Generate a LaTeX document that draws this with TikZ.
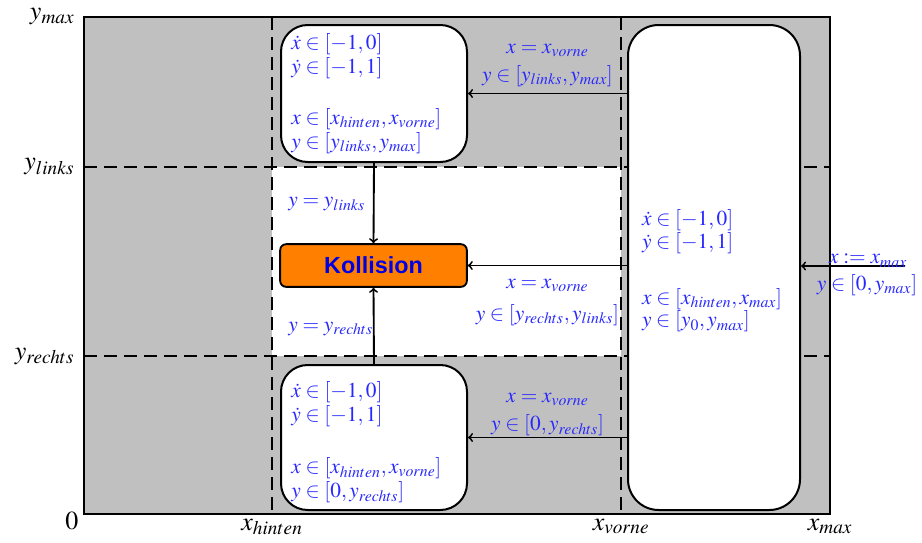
\documentclass[tikz,border=0pt]{standalone}
\usepackage{mathptmx}
\usepackage{fontspec}
\newfontfamily\kollfont{Liberation Sans}
\usetikzlibrary{calc}
\definecolor{lblblue}{RGB}{40,40,255}
\definecolor{kollblue}{RGB}{0,0,225}
\definecolor{kollorange}{RGB}{255,128,0}
\definecolor{areagray}{RGB}{192,192,192}
\tikzset{
  gridline/.style={dashed, dash pattern=on 10pt off 5pt, line width=1.2pt},
  statebox/.style={draw, line width=1.5pt, fill=white, align=left, inner xsep=0pt,
    font=\fontsize{16}{18}\selectfont, text=lblblue},
  kollbox/.style={draw, line width=1.4pt, fill=kollorange, rounded corners=4.5pt,
    minimum width=140pt, minimum height=32pt, text=kollblue,
    font=\kollfont\bfseries\fontsize{17.5}{20}\selectfont},
  lbl/.style={text=lblblue, align=center, font=\fontsize{16}{20}\selectfont},
  axis/.style={font=\fontsize{19.5}{22}\selectfont},
  conn/.style={->, line width=1.4pt},
}
\begin{document}
\begin{tikzpicture}[x=0.75pt, y=-0.75pt]
\useasboundingbox (0,0) rectangle (922,543);
% area
\fill[areagray] (84,17) rectangle (830,514);
\fill[white] (272,167) rectangle (621,356);
\draw[gridline] (272,17) -- (272,514);
\draw[gridline] (621,17) -- (621,514);
\draw[gridline] (84,167) -- (830,167);
\draw[gridline] (84,356) -- (830,356);
\draw[line width=1.5pt] (84,17) rectangle (830,514);
% axis labels
\node[axis, anchor=east] (ymax) at (79,17) {$y_{max}$};
\node[axis, anchor=east] (ylinks) at (79,167) {$y_{links}$};
\node[axis, anchor=east] (yrechts) at (79,356) {$y_{rechts}$};
\node[axis, anchor=east] (zero) at (83,521) {$0$};
\node[axis, anchor=north] (xhinten) at (272,514) {$x_{hinten}$};
\node[axis, anchor=north] (xvorne) at (621,514) {$x_{vorne}$};
\node[axis, anchor=north] (xmax) at (830,514) {$x_{max}$};
% states
\node[statebox, rounded corners=20pt, minimum width=139.5pt, minimum height=102.75pt, text width=124pt]
  (top) at (374,93.5)
  {$\dot x\in[-1,0]$\\ $\dot y\in[-1,1]$\\[20pt]
   $x\in[x_{hinten},x_{vorne}]$\\ $y\in[y_{links},y_{max}]$};
\node[statebox, rounded corners=20pt, minimum width=139.5pt, minimum height=108.75pt, text width=124pt]
  (bot) at (374,437.5)
  {\rule{0pt}{19pt}$\dot x\in[-1,0]$\\ $\dot y\in[-1,1]$\\[21pt]
   $x\in[x_{hinten},x_{vorne}]$\\ $y\in[0,y_{rechts}]$};
\node[statebox, rounded corners=23pt, minimum width=129pt, minimum height=363.75pt, text width=108pt]
  (big) at (714,267.5)
  {\rule{0pt}{17pt}$\dot x\in[-1,0]$\\[-1pt] $\dot y\in[-1,1]$\\[24pt]
   $x\in[x_{hinten},x_{max}]$\\[-1pt] $y\in[y_0,y_{max}]$};
\node[kollbox] (koll) at (373.5,265.5) {Kollision};
% transitions
\draw[conn] (top.east -| big.west) -- node[lbl, above=1pt] {$x=x_{vorne}$\\[1pt] $y\in[y_{links},y_{max}]$} (top.east);
\draw[conn] (koll.east -| big.west) -- node[lbl, below=6pt] {$x=x_{vorne}$\\[4pt] $y\in[y_{rechts},y_{links}]$} (koll.east);
\draw[conn] (bot.east -| big.west) -- node[lbl, above=-3pt] {$x=x_{vorne}$\\[1pt] $y\in[0,y_{rechts}]$} (bot.east);
\draw[conn] (top.south) -- node[lbl, anchor=west, xshift=-68pt, yshift=-1pt] {$y=y_{links}$} (koll.north);
\draw[conn] (bot.north) -- node[lbl, anchor=west, xshift=-68pt, yshift=-2pt] {$y=y_{rechts}$} (koll.south);
\coordinate (entry) at (905,266);
\draw[conn] (entry) -- (entry -| big.east);
\node[lbl, anchor=south] (entrylbl1) at (868,272) {$x:=x_{max}$};
\node[lbl, anchor=north] (entrylbl2) at (867,270) {$y\in[0,y_{max}]$};
\end{tikzpicture}
\end{document}
